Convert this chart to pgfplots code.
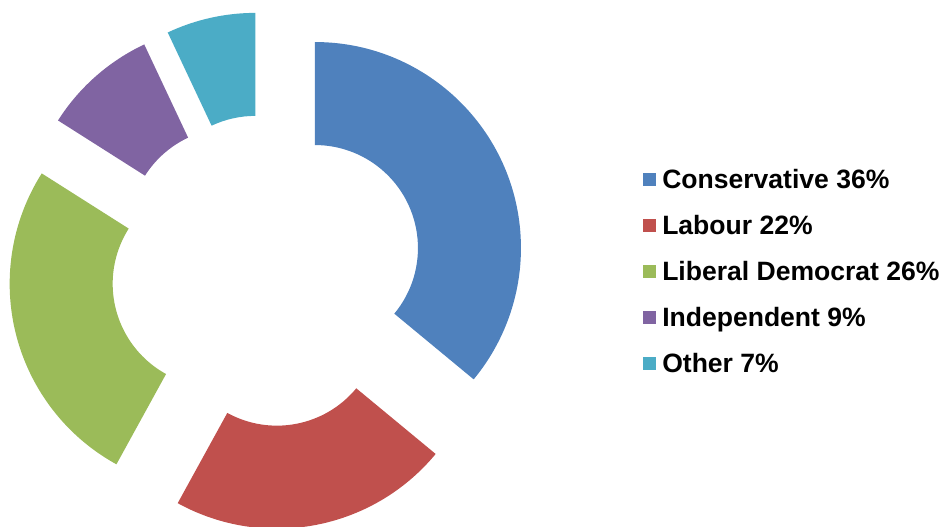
\documentclass[border=0pt]{standalone}
\usepackage{pgfplots}
\pgfplotsset{compat=1.18}
\usepackage{fontspec}
\setmainfont{Liberation Sans}
\definecolor{cons}{HTML}{4F81BD}
\definecolor{lab}{HTML}{C0504D}
\definecolor{lib}{HTML}{9BBB59}
\definecolor{ind}{HTML}{8064A2}
\definecolor{oth}{HTML}{4BACC6}
% slice: colour, start (percent), share (percent)
\newcommand\slice[3]{%
 \pgfmathsetmacro\aS{90-3.6*#2}%
 \pgfmathsetmacro\aE{90-3.6*(#2+#3)}%
 \pgfmathsetmacro\aM{(\aS+\aE)/2}%
 \pgfmathsetmacro\cx{267+53*cos(\aM)}%
 \pgfmathsetmacro\cy{255.4+53*sin(\aM)}%
 \edef\temp{\noexpand\fill[#1] ([shift={(\aS:154.5pt)}]axis cs:\cx,\cy) arc[start angle=\aS, end angle=\aE, radius=154.5pt]
   -- ([shift={(\aE:77.25pt)}]axis cs:\cx,\cy) arc[start angle=\aE, end angle=\aS, radius=77.25pt] -- cycle;}%
 \temp
}
\begin{document}
\begin{tikzpicture}
\begin{axis}[x=0.75pt, y=0.75pt, xmin=0, xmax=947, ymin=0, ymax=526,
  hide axis, clip=true,
  legend image code/.code={\fill[#1] (0pt,-3pt) rectangle (9.75pt,6.75pt);},
  legend cell align=left,
  legend style={at={(axis cs:643,357.7)}, anchor=north west, draw=none, fill=none,
    inner sep=0pt, font=\bfseries\fontsize{19.9}{24}\selectfont, row sep=15pt,
    nodes={inner sep=0pt, text height=15pt, text depth=4.5pt},
    /tikz/every odd column/.append style={column sep=4.5pt}},
]
\addlegendimage{fill=cons, draw=none}\addlegendentry{Conservative 36\%}
\addlegendimage{fill=lab, draw=none}\addlegendentry{Labour 22\%}
\addlegendimage{fill=lib, draw=none}\addlegendentry{Liberal Democrat 26\%}
\addlegendimage{fill=ind, draw=none}\addlegendentry{Independent 9\%}
\addlegendimage{fill=oth, draw=none}\addlegendentry{Other 7\%}
\slice{cons}{0}{36}
\slice{lab}{36}{22}
\slice{lib}{58}{26}
\slice{ind}{84}{9}
\slice{oth}{93}{7}
\end{axis}
\pgfresetboundingbox
\useasboundingbox (current axis.south west) rectangle (current axis.north east);
\end{tikzpicture}
\end{document}
